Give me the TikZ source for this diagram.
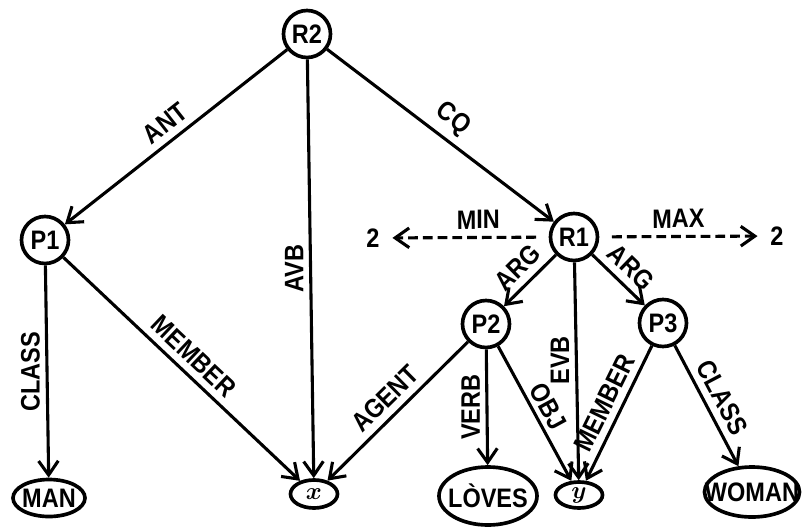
\documentclass[tikz,border=0pt]{standalone}
\usepackage{fontspec}
\setmainfont{Liberation Sans}[FakeStretch=0.88]
\usetikzlibrary{shapes.geometric,arrows.meta}

\begin{document}
\begin{tikzpicture}[x=0.025cm, y=-0.025cm,
	every node/.style={font=\fontsize{19}{21}\selectfont\bfseries},
	prop/.style={draw, circle, line width=2.6pt, minimum size=1.175cm, inner sep=0pt},
	term/.style={draw, ellipse, line width=2.6pt, inner sep=0pt},
	num/.style={inner sep=9pt},
	arc/.style={line width=2.2pt, -{Straight Barb[length=10pt,width=14pt]}},
	bound/.style={arc, dash pattern=on 7pt off 3.5pt, shorten <=9pt},
	rel/.style={midway, sloped, above, inner sep=5pt},
	vrel/.style={midway, rotate=90, anchor=south, inner sep=4pt}]
	\useasboundingbox (0,0) rectangle (803,527);

	%Propositions
	\node[prop] (R2) at (307,34) {R2};
	\node[prop] (P1) at (45,240) {P1};
	\node[prop] (R1) at (574,237) {R1};
	\node[prop] (P2) at (486,324) {P2};
	\node[prop] (P3) at (663,323) {P3};
	\node[num] (min) at (373,238) {2};
	\node[num] (max) at (777,236) {2};

	%Terms
	\node[term, minimum width=1.8cm, minimum height=0.925cm] (man) at (49,498) {\makebox[0pt]{MAN}};
	\node[term, minimum width=1.175cm, minimum height=0.7cm] (x) at (314,494) {\makebox[0pt]{\boldmath$x$}};
	\node[term, minimum width=2.45cm, minimum height=1.45cm] (loves) at (488,496) {\makebox[0pt]{LÒVES}};
	\node[term, minimum width=1.175cm, minimum height=0.65cm] (y) at (579,495) {\makebox[0pt]{\boldmath$y$}};
	\node[term, minimum width=2.375cm, minimum height=1.25cm] (woman) at (752,492) {\makebox[0pt]{WOMAN}};

	%Arcs
	\draw[arc] (R2) -- node[rel] {ANT} (P1);
	\draw[arc] (R2) -- node[vrel] {AVB} (x);
	\draw[arc] (R2) -- node[rel] {CQ} (R1);
	\draw[bound] (R1) -- node[rel, pos=0.45] {MIN} (min);
	\draw[bound] (R1) -- node[rel] {MAX} (max);
	\draw[arc] (R1) -- node[rel] {ARG} (P2);
	\draw[arc] (R1) -- node[rel] {ARG} (P3);
	\draw[arc] (R1) -- node[vrel, pos=0.45] {EVB} (y);
	\draw[arc] (P1) -- node[vrel] {CLASS} (man);
	\draw[arc] (P1) -- node[rel] {MEMBER} (x);
	\draw[arc] (P2) -- node[rel] {AGENT} (x);
	\draw[arc] (P2) -- node[vrel] {VERB} (loves);
	\draw[arc] (P2) -- node[rel, pos=0.5, inner sep=3pt] {OBJ} (y);
	\draw[arc] (P3) -- node[rel, pos=0.48] {MEMBER} (y);
	\draw[arc] (P3) -- node[rel] {CLASS} (woman);
\end{tikzpicture}
\end{document}
